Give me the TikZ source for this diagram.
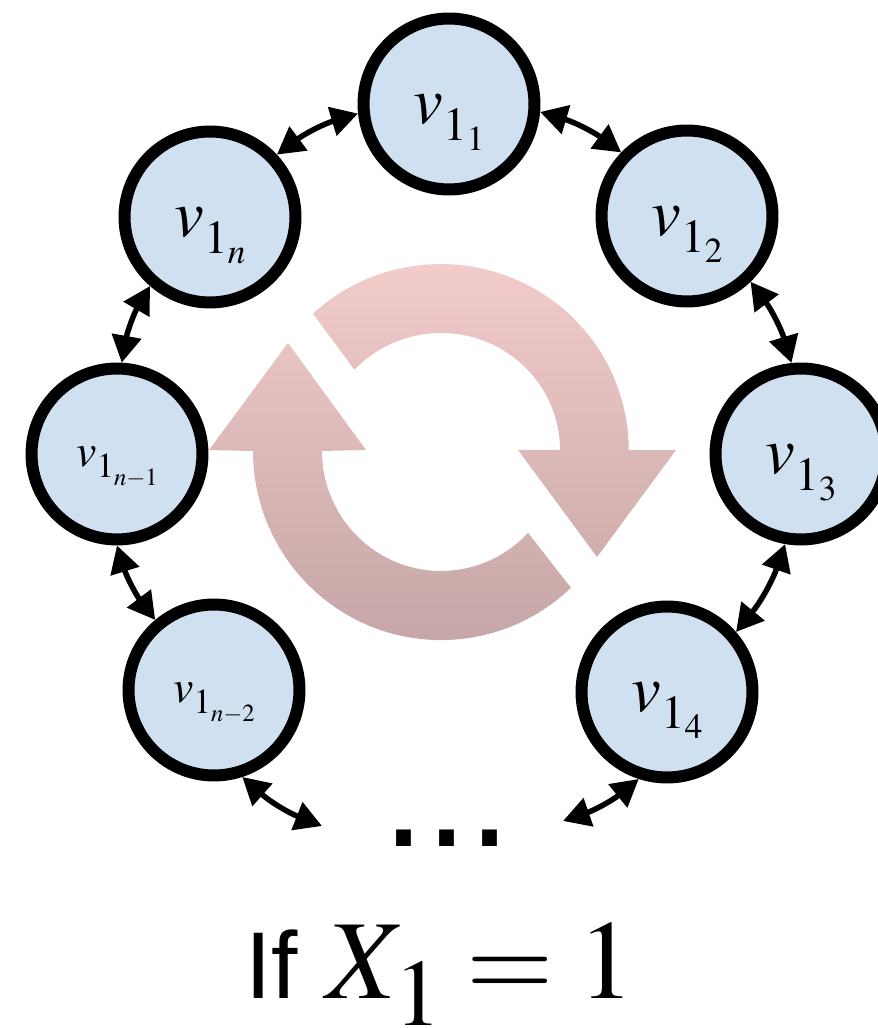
\documentclass[tikz,border=0pt]{standalone}
\usepackage{mathptmx}
\usepackage{fontspec}
\setmainfont{Liberation Serif}
\setsansfont{Liberation Sans}
\usepackage{xcolor}
\usetikzlibrary{arrows.meta, positioning}
\definecolor{nodeblue}{HTML}{CFE0F1}
\definecolor{cycletop}{HTML}{F5CDCD}
\definecolor{cyclebot}{HTML}{C3A4A4}
\DeclareMathSizes{38}{38}{27}{20}
\DeclareMathSizes{26}{26}{20}{14}
\DeclareMathSizes{64}{64}{54}{32}
\newcommand{\vlab}[1]{$v$\lower.24em\hbox{$\scriptstyle 1$\lower.16em\hbox{$\scriptscriptstyle #1$}}}

\begin{document}
\begin{tikzpicture}[
    x=0.02cm, y=0.02cm,
    >={Triangle[length=0.54cm, width=0.58cm]},
    vnode/.style={draw, circle, line width=0.24cm, minimum size=3.42cm, inner sep=0pt, fill=nodeblue, font=\fontsize{38}{40}\selectfont, text height=1.4cm, text depth=0.6cm},
    smallv/.style={vnode, font=\fontsize{26}{30}\selectfont, text height=1cm, text depth=0.48cm},
    link/.style={<->, line width=0.11cm, bend left=10},
]
    \useasboundingbox (0,0) rectangle (877,1028);

    % cycle symbol
    \shade[top color=cycletop, bottom color=cyclebot]
        (313,714.4) arc[start angle=132.8, end angle=0, x radius=188, y radius=186] -- (676,578) -- (597,471) -- (518,578) -- (560,578)
            arc[start angle=0, end angle=136.7, x radius=119, y radius=117] -- cycle
        (570.9,440.3) arc[start angle=-46.3, end angle=-180, x radius=188, y radius=189] -- (209,578) -- (288,685) -- (366,578) -- (322,577)
            arc[start angle=180, end angle=317, x radius=119, y radius=120] -- cycle;

    \node[vnode] (v1) at (449,924) {\vlab{1}};
    \node[vnode] (v2) at (687,812) {\vlab{2}};
    \node[vnode] (v3) at (801,574) {\vlab{3}};
    \node[vnode] (v4) at (667,336) {\vlab{4}};
    \node[vnode] (vn) at (210,811) {\vlab{n}};
    \node[smallv] (vm) at (117,574) {\vlab{n-1}};
    \node[smallv] (vk) at (214,338) {\vlab{n-2}};

    \node[anchor=base, font=\fontsize{88}{90}\sffamily\selectfont] (dots) at (447,181) {...};
    \coordinate (dl) at (322,202);
    \coordinate (dr) at (563,207);

    \draw[link] (vn.43.7) to (v1.186);
    \draw[link] (v1.-5.6) to (v2.136);
    \draw[link] (v2.-46) to (v3.96);
    \draw[link] (v3.260) to (v4.41.5);
    \draw[link] (v4.252) to (dr);
    \draw[link] (dl) to (vk.-72.7);
    \draw[link] (vk.130.5) to (vm.-90);
    \draw[link] (vm.87.5) to (vn.229);

    \node[anchor=base west, inner sep=0pt, font=\fontsize{64}{70}\selectfont] (cond) at (245,30) {{\fontsize{54}{60}\sffamily\selectfont If} $X$\kern-.1em\lower.55cm\hbox{$\scriptstyle 1$}${}={}1$};
\end{tikzpicture}
\end{document}
